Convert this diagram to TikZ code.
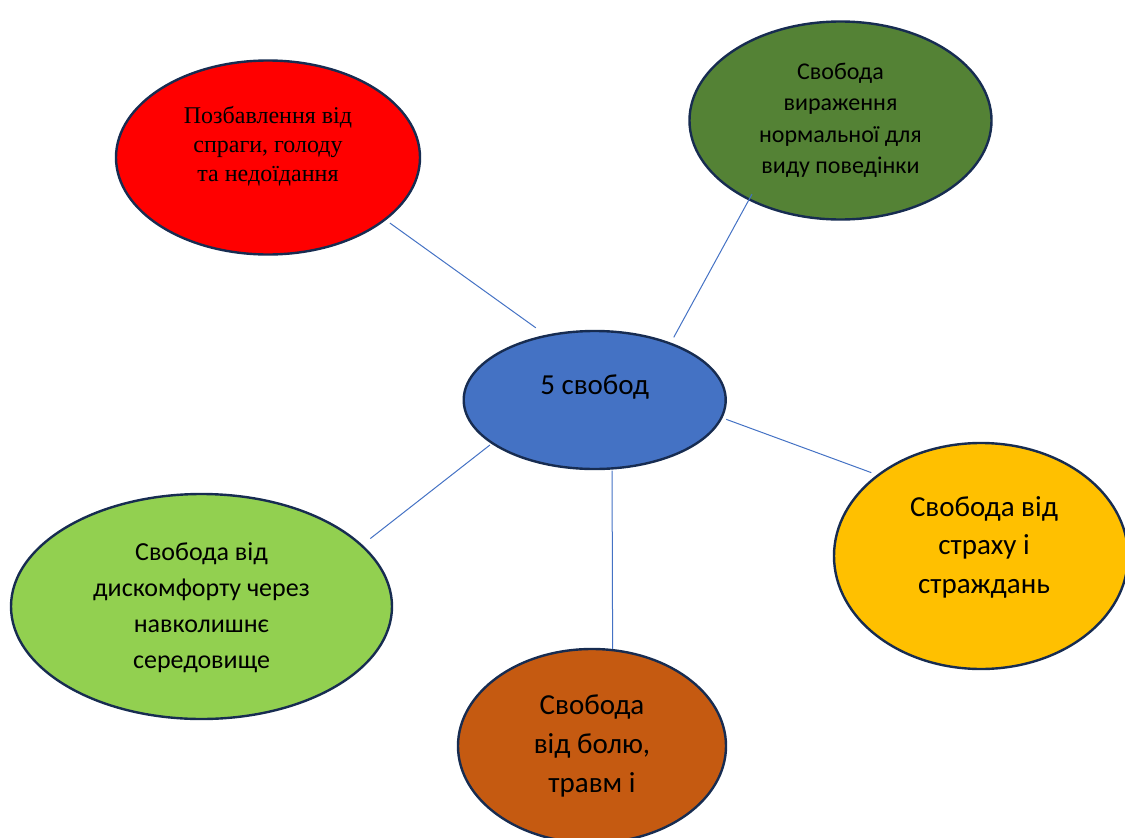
\documentclass[tikz,border=0pt]{standalone}
\usepackage{fontspec}
\setmainfont{Carlito}
\newfontfamily\timesfont{Liberation Serif}
\usetikzlibrary{shapes.geometric}
\definecolor{outline}{HTML}{172C51}
\definecolor{linkblue}{HTML}{4472C4}
\definecolor{fillred}{HTML}{FF0000}
\definecolor{fillgreen}{HTML}{548235}
\definecolor{fillblue}{HTML}{4472C4}
\definecolor{fillyellow}{HTML}{FFC000}
\definecolor{filllime}{HTML}{92D050}
\definecolor{fillorange}{HTML}{C55A11}

\begin{document}
\begin{tikzpicture}[
    x=1pt, y=-1pt,
    myellipse/.style={
    ellipse,
    draw=outline,
    line width=2.4pt,
    inner sep=0pt},
    mytext/.style={align=center, text=black},
    myline/.style={draw=linkblue, line width=1pt}
    ]
    \useasboundingbox (0,0) rectangle (1125,838);

    \node[myellipse, fill=fillblue, minimum width=262pt, minimum height=138pt,
      label={[mytext, yshift=13pt, font=\fontsize{29}{36}\selectfont]center:5 свобод}] (core) at (594.7,400) {};
    \node[myellipse, fill=fillred, minimum width=304pt, minimum height=194pt,
      label={[mytext, yshift=11pt, font=\timesfont\fontsize{24}{29}\selectfont]center:Позбавлення від\\спраги, голоду\\та недоїдання}] (hunger) at (268,157.5) {};
    \node[myellipse, fill=fillgreen, minimum width=302pt, minimum height=198pt,
      label={[mytext, yshift=0pt, font=\fontsize{24}{31.5}\selectfont]center:Свобода\\вираження\\нормальної для\\виду поведінки}] (behaviour) at (840.5,120.5) {};
    \node[myellipse, fill=fillyellow, minimum width=294pt, minimum height=226pt,
      label={[mytext, yshift=9pt, xshift=3pt, font=\fontsize{29}{38.5}\selectfont]center:Свобода від\\страху і\\страждань}] (fear) at (981,556) {};
    \node[myellipse, fill=filllime, minimum width=381pt, minimum height=225pt,
      label={[mytext, yshift=-1pt, font=\fontsize{26}{36}\selectfont]center:Свобода від\\дискомфорту через\\навколишнє\\середовище}] (comfort) at (201.5,606.5) {};
    \node[myellipse, fill=fillorange, minimum width=268pt, minimum height=194pt,
      label={[mytext, yshift=0pt, font=\fontsize{29}{39}\selectfont]center:Свобода\\від болю,\\травм і}] (pain) at (592,746) {};

    \draw[myline, shorten <=5pt, shorten >=12pt] (hunger.-28) -- (core.127);
    \draw[myline, shorten <=-7pt, shorten >=6pt] (behaviour.221) -- (core.37);
    \draw[myline, shorten <=4pt, shorten >=6pt] (core.-8) -- (fear.142);
    \draw[myline, shorten <=2pt, shorten >=10pt] (core.203) -- (comfort.21);
    \draw[myline, shorten <=1pt] (core.-76) -- (pain.78);
\end{tikzpicture}
\end{document}
